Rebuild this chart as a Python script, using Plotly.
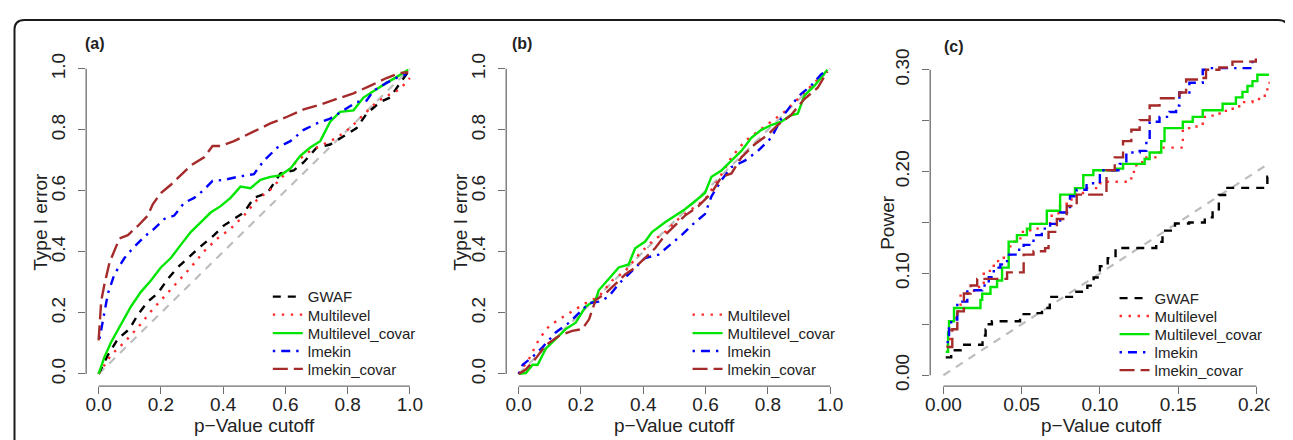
import plotly.graph_objects as go

W, H = 1293, 440
OFF = 8  # default body margin of the saved html page

# ---------------- data ----------------
# Panel (a): Type I error vs p-value cutoff
a_gwaf_x = [0, .03, .062, .099, .126, .158, .19, .222, .254, .286, .328, .371, .403, .435, .467, .499, .542, .563, .584, .627, .659, .701, .744, .787, .829, .861, .904, .936, .968, .995]
a_gwaf_y = [0, .062, .115, .147, .194, .237, .264, .311, .349, .38, .418, .455, .487, .508, .529, .577, .593, .625, .657, .667, .694, .742, .752, .779, .806, .853, .891, .906, .954, .991]
a_ml_x = [0, .04, .083, .126, .168, .211, .254, .296, .339, .382, .424, .467, .51, .552, .595, .638, .68, .723, .765, .808, .851, .893, .936, .968, 1.0]
a_ml_y = [0, .062, .104, .152, .205, .253, .301, .349, .402, .444, .476, .519, .572, .604, .651, .699, .731, .752, .774, .806, .848, .891, .917, .933, .97]
a_mlc_x = [0, .019, .04, .072, .104, .136, .168, .2, .232, .264, .296, .328, .36, .392, .424, .456, .488, .52, .552, .584, .616, .648, .68, .712, .744, .776, .819, .851, .883, .925, .957, .995]
a_mlc_y = [0, .056, .104, .163, .221, .269, .306, .349, .38, .423, .465, .497, .529, .55, .577, .614, .609, .636, .646, .651, .673, .715, .742, .763, .827, .859, .864, .906, .928, .954, .973, .997]
a_lmk_x = [.003, .014, .03, .051, .083, .11, .147, .179, .211, .243, .275, .307, .339, .366, .403, .446, .499, .531, .574, .616, .659, .701, .744, .787, .829, .861, .883, .925, .968, .989]
a_lmk_y = [.115, .179, .264, .327, .38, .412, .45, .476, .508, .519, .561, .577, .604, .633, .636, .646, .655, .699, .742, .763, .8, .821, .837, .864, .891, .896, .928, .954, .976, .981]
a_lmkc_x = [0, .0085, .019, .035, .067, .094, .126, .158, .174, .2, .232, .264, .296, .339, .366, .392, .435, .467, .499, .552, .606, .659, .712, .765, .819, .872, .925, .968, .995]
a_lmkc_y = [.11, .24, .295, .365, .444, .455, .485, .519, .556, .593, .62, .651, .683, .71, .747, .747, .763, .779, .795, .821, .843, .867, .883, .901, .92, .944, .97, .986, .989]

# Panel (b): Type I error vs p-value cutoff
b_ml_x = [0, .034, .066, .098, .13, .172, .215, .257, .3, .343, .385, .428, .47, .513, .555, .598, .64, .683, .726, .768, .811, .853, .896, .938, .991]
b_ml_y = [0, .051, .115, .157, .179, .205, .232, .253, .306, .338, .391, .434, .465, .508, .54, .572, .635, .71, .763, .795, .827, .859, .901, .944, .997]
b_mlc_x = [0, .023, .045, .061, .087, .119, .151, .183, .215, .247, .257, .289, .321, .353, .374, .406, .428, .47, .502, .534, .566, .598, .619, .651, .683, .715, .747, .779, .811, .843, .874, .896, .917, .949, .97, .991]
b_mlc_y = [0, .003, .03, .03, .083, .115, .147, .168, .221, .242, .274, .311, .349, .359, .412, .434, .465, .497, .519, .54, .566, .593, .646, .667, .699, .731, .774, .8, .816, .827, .848, .853, .912, .944, .97, .997]
b_lmk_x = [0, .013, .045, .077, .119, .162, .194, .226, .257, .289, .321, .364, .406, .449, .481, .523, .566, .598, .619, .651, .683, .726, .768, .811, .843, .874, .906, .938, .97, .991]
b_lmk_y = [0, .03, .056, .088, .136, .168, .2, .232, .237, .253, .295, .338, .38, .391, .418, .455, .497, .524, .582, .635, .678, .699, .731, .774, .837, .88, .917, .944, .981, .997]
b_lmkc_x = [0, .023, .055, .087, .13, .172, .204, .226, .247, .279, .311, .343, .374, .406, .438, .47, .502, .534, .577, .619, .651, .683, .715, .757, .8, .832, .874, .917, .96, .991]
b_lmkc_y = [0, .014, .051, .094, .125, .141, .147, .179, .242, .264, .295, .327, .349, .38, .412, .455, .487, .519, .55, .593, .646, .657, .71, .752, .784, .816, .848, .901, .938, .991]

# Panel (c): Power vs p-value cutoff (step functions)
c_gwaf_x = [0.0015, 0.005, 0.011, 0.025, 0.027, 0.029, 0.031, 0.049, 0.057, 0.063, 0.068, 0.085, 0.092, 0.096, 0.100, 0.105, 0.110, 0.136, 0.140, 0.148, 0.157, 0.167, 0.172, 0.176, 0.180, 0.207, 0.210]
c_gwaf_y = [0.0175, 0.0245, 0.030, 0.039, 0.045, 0.050, 0.053, 0.060, 0.061, 0.066, 0.077, 0.082, 0.088, 0.096, 0.107, 0.115, 0.125, 0.131, 0.142, 0.149, 0.150, 0.155, 0.163, 0.177, 0.184, 0.195, 0.195]
c_ml_x = [0.002, 0.0042, 0.0078, 0.011, 0.0195, 0.0258, 0.0322, 0.0386, 0.0428, 0.0492, 0.0555, 0.0619, 0.0682, 0.0735, 0.0788, 0.0852, 0.0915, 0.100, 0.1042, 0.1201, 0.1233, 0.1286, 0.1381, 0.153, 0.1593, 0.1657, 0.172, 0.1805, 0.189, 0.1975, 0.2038, 0.207, 0.2085]
c_ml_y = [0.029, 0.053, 0.063, 0.080, 0.0866, 0.1025, 0.1121, 0.1185, 0.1312, 0.1408, 0.144, 0.1487, 0.1567, 0.1662, 0.1726, 0.179, 0.1838, 0.1885, 0.1901, 0.1997, 0.2092, 0.214, 0.2236, 0.2427, 0.2443, 0.2538, 0.257, 0.2618, 0.2682, 0.2713, 0.2745, 0.2873, 0.2936]
c_mlc_x = [0.0015, 0.003, 0.0036, 0.0068, 0.0237, 0.0248, 0.0301, 0.0343, 0.0375, 0.0417, 0.047, 0.0534, 0.0555, 0.0661, 0.0746, 0.0841, 0.0894, 0.0958, 0.1106, 0.1148, 0.1286, 0.1318, 0.1392, 0.1413, 0.153, 0.1593, 0.1657, 0.1784, 0.1869, 0.1911, 0.1943, 0.1975, 0.2006, 0.208]
c_mlc_y = [0.023, 0.042, 0.053, 0.066, 0.074, 0.080, 0.0866, 0.093, 0.1057, 0.1312, 0.1376, 0.144, 0.1487, 0.1615, 0.1774, 0.1838, 0.1965, 0.2013, 0.2029, 0.2076, 0.2124, 0.2188, 0.2299, 0.2427, 0.249, 0.2538, 0.2602, 0.2666, 0.2729, 0.2783, 0.2841, 0.2889, 0.2952, 0.2952]
c_lmk_x = [0.002, 0.0036, 0.005, 0.0089, 0.0153, 0.0248, 0.029, 0.0322, 0.0364, 0.0407, 0.047, 0.0513, 0.0576, 0.0629, 0.0682, 0.0746, 0.0809, 0.0852, 0.0915, 0.100, 0.1127, 0.1169, 0.1254, 0.1297, 0.1318, 0.1381, 0.1445, 0.1487, 0.1508, 0.1572, 0.1657, 0.1678, 0.1975, 0.1996]
c_lmk_y = [0.0325, 0.0484, 0.0548, 0.0723, 0.0834, 0.0882, 0.0962, 0.1057, 0.1089, 0.1185, 0.1232, 0.128, 0.1376, 0.144, 0.1487, 0.1599, 0.1758, 0.1822, 0.1885, 0.2013, 0.2076, 0.2188, 0.2204, 0.2331, 0.249, 0.2538, 0.2586, 0.265, 0.2777, 0.2873, 0.300, 0.3016, 0.3096, 0.3102]
c_lmkc_x = [0.002, 0.0057, 0.0089, 0.0131, 0.0174, 0.0216, 0.0407, 0.0513, 0.0576, 0.065, 0.0672, 0.0725, 0.0788, 0.0852, 0.1042, 0.1095, 0.1148, 0.1201, 0.1254, 0.1318, 0.1381, 0.1508, 0.1551, 0.1636, 0.1678, 0.1763, 0.1847, 0.1996]
c_lmkc_y = [0.0277, 0.0452, 0.0627, 0.0803, 0.0882, 0.0946, 0.101, 0.1185, 0.1217, 0.1248, 0.1408, 0.1535, 0.1662, 0.1774, 0.2013, 0.214, 0.2299, 0.2411, 0.2506, 0.265, 0.272, 0.2777, 0.2904, 0.292, 0.300, 0.3022, 0.308, 0.3111]

diag_ab = [0, 1]
diag_c = [0, 0.207]

ab_ticks = [0, 0.2, 0.4, 0.6, 0.8, 1.0]
ab_ticktext = ["0.0", "0.2", "0.4", "0.6", "0.8", "1.0"]
c_xticks = [0, 0.05, 0.10, 0.15, 0.20]
c_xticktext = ["0.00", "0.05", "0.10", "0.15", "0.20"]
c_yticks = [0, 0.05, 0.10, 0.15, 0.20, 0.25, 0.30]
c_yticktext = ["0.00", "", "0.10", "", "0.20", "", "0.30"]

# ---------------- layout helpers ----------------
FONT = "Liberation Sans, Arial, Helvetica, sans-serif"
TXT = "#222222"
AXC = "#6e6e6e"

def px_x(p):
    return (p - OFF) / W

def px_y(p):
    return 1 - (p - OFF) / H

# plot regions in page pixels: left, right, top, bottom; and axis ranges
panels = {
    "a": dict(box=(81.5, 419.2, 49.8, 388.5), xr=[-0.04, 1.04], yr=[-0.04, 1.04]),
    "b": dict(box=(503.5, 841.5, 49.8, 388.5), xr=[-0.04, 1.04], yr=[-0.04, 1.04]),
    "c": dict(box=(929.5, 1274.5, 49.8, 388.5), xr=[-0.0084, 0.211], yr=[-0.0107, 0.3129]),
}

styles = {
    "GWAF": dict(color="#000000", dash="8px,7px"),
    "Multilevel": dict(color="#ff2a2a", dash="2.4px,6.6px"),
    "Multilevel_covar": dict(color="#00e600", dash="solid"),
    "lmekin": dict(color="#0000ff", dash="2.4px,6px,9px,6px"),
    "lmekin_covar": dict(color="#a52a2a", dash="15px,6px"),
}
LW = 2.4

fig = go.Figure()

series = {
    "a": [("GWAF", a_gwaf_x, a_gwaf_y), ("Multilevel", a_ml_x, a_ml_y),
          ("Multilevel_covar", a_mlc_x, a_mlc_y), ("lmekin", a_lmk_x, a_lmk_y),
          ("lmekin_covar", a_lmkc_x, a_lmkc_y)],
    "b": [("Multilevel", b_ml_x, b_ml_y), ("Multilevel_covar", b_mlc_x, b_mlc_y),
          ("lmekin", b_lmk_x, b_lmk_y), ("lmekin_covar", b_lmkc_x, b_lmkc_y)],
    "c": [("GWAF", c_gwaf_x, c_gwaf_y), ("Multilevel", c_ml_x, c_ml_y),
          ("Multilevel_covar", c_mlc_x, c_mlc_y), ("lmekin", c_lmk_x, c_lmk_y),
          ("lmekin_covar", c_lmkc_x, c_lmkc_y)],
}
legend_rows = {
    "a": (306, [296.7, 315.3, 334.3, 352.7, 371.0]),
    "b": (727.7, [315.3, 334.3, 352.7, 371.0]),
    "c": (1156.7, [298.3, 316.7, 335.3, 354.0, 372.3]),
}
axis_ids = {"a": ("x", "y", ""), "b": ("x2", "y2", "2"), "c": ("x3", "y3", "3")}

layout_extra = {}
legend_counter = 0
for key in ["a", "b", "c"]:
    xa, ya, suf = axis_ids[key]
    diag = diag_c if key == "c" else diag_ab
    fig.add_trace(go.Scatter(x=diag, y=diag, mode="lines", xaxis=xa, yaxis=ya,
                             line=dict(color="#bdbdbd", width=2.2, dash="8px,7px"),
                             showlegend=False, hoverinfo="skip"))
    text_x, rows = legend_rows[key]
    for (name, xs, ys), row_y in zip(series[key], rows):
        legend_counter += 1
        lname = "legend" if legend_counter == 1 else f"legend{legend_counter}"
        st = styles[name]
        fig.add_trace(go.Scatter(
            x=xs, y=ys, mode="lines", name=name, xaxis=xa, yaxis=ya,
            line=dict(color=st["color"], width=LW, dash=st["dash"],
                      shape="hv" if key == "c" else "linear"),
            legend=lname, showlegend=True))
        layout_extra[lname] = dict(
            x=px_x(text_x - 42), y=px_y(row_y), xanchor="left", yanchor="middle",
            bgcolor="rgba(0,0,0,0)", borderwidth=0,
            font=dict(family=FONT, size=15, color=TXT), itemclick=False,
        )

shapes = []
annotations = []

def to_paper(key, xv, yv):
    l, r, t, b = panels[key]["box"]
    x0, x1 = panels[key]["xr"]
    y0, y1 = panels[key]["yr"]
    px = l + (xv - x0) / (x1 - x0) * (r - l)
    py = b - (yv - y0) / (y1 - y0) * (b - t)
    return px_x(px), px_y(py)

axis_spec = {
    "a": dict(xt=ab_ticks, xtt=ab_ticktext, yt=ab_ticks, ytt=ab_ticktext, ytitle="Type I error",
              ytitle_x=36, label="(a)", label_x=78, label_y=36),
    "b": dict(xt=ab_ticks, xtt=ab_ticktext, yt=ab_ticks, ytt=ab_ticktext, ytitle="Type I error",
              ytitle_x=458, label="(b)", label_x=507.7, label_y=36),
    "c": dict(xt=c_xticks, xtt=c_xticktext, yt=c_yticks, ytt=c_yticktext, ytitle="Power",
              ytitle_x=887, label="(c)", label_x=941.7, label_y=39),
}

for key in ["a", "b", "c"]:
    xa, ya, suf = axis_ids[key]
    l, r, t, b = panels[key]["box"]
    sp = axis_spec[key]
    common = dict(showgrid=False, zeroline=False, showline=False, ticks="outside",
                  ticklen=7, tickwidth=1.3, tickcolor=AXC,
                  tickfont=dict(family=FONT, size=19, color=TXT), fixedrange=True)
    layout_extra["xaxis" + suf] = dict(domain=[px_x(l), px_x(r)], range=panels[key]["xr"],
                                       anchor=ya, tickvals=sp["xt"], ticktext=sp["xtt"],
                                       ticklabelstandoff=-6, **common)
    layout_extra["yaxis" + suf] = dict(domain=[px_y(b), px_y(t)], range=panels[key]["yr"],
                                       anchor=xa, tickvals=sp["yt"], ticktext=sp["ytt"],
                                       tickangle=-90, ticklabelstandoff=6, **common)
    # R-style axis lines spanning first to last tick
    xs0, _ = to_paper(key, sp["xt"][0], 0)
    xs1, _ = to_paper(key, sp["xt"][-1], 0)
    _, ys0 = to_paper(key, 0, sp["yt"][0])
    _, ys1 = to_paper(key, 0, sp["yt"][-1])
    shapes.append(dict(type="line", xref="paper", yref="paper", x0=xs0, x1=xs1,
                       y0=px_y(b), y1=px_y(b), line=dict(color=AXC, width=1.3)))
    shapes.append(dict(type="line", xref="paper", yref="paper", x0=px_x(l), x1=px_x(l),
                       y0=ys0, y1=ys1, line=dict(color=AXC, width=1.3)))
    # axis titles
    annotations.append(dict(text="p\u2212Value cutoff", xref="paper", yref="paper",
                            x=px_x((l + r) / 2), y=px_y(429), xanchor="center", yanchor="middle",
                            showarrow=False, font=dict(family=FONT, size=19, color=TXT)))
    annotations.append(dict(text=sp["ytitle"], xref="paper", yref="paper", textangle=-90,
                            x=px_x(sp["ytitle_x"]), y=px_y((t + b) / 2 + 0.5), xanchor="center",
                            yanchor="middle", showarrow=False,
                            font=dict(family=FONT, size=19, color=TXT)))
    annotations.append(dict(text="<b>" + sp["label"] + "</b>", xref="paper", yref="paper",
                            x=px_x(sp["label_x"]), y=px_y(sp["label_y"]), xanchor="left",
                            yanchor="middle", showarrow=False,
                            font=dict(family=FONT, size=16, color=TXT)))

# cropped edge of panel (c)
shapes.append(dict(type="rect", xref="paper", yref="paper", layer="above",
                   x0=px_x(1270.5), x1=px_x(1285), y0=px_y(448), y1=px_y(45),
                   fillcolor="white", line=dict(width=0)))

# rounded outer frame
fx0, fx1, fy0, rad = 9.5, 1289, 12, 10
frame = (f"M {px_x(fx0)},{px_y(470)} L {px_x(fx0)},{px_y(fy0 + rad)} "
         f"Q {px_x(fx0)},{px_y(fy0)} {px_x(fx0 + rad)},{px_y(fy0)} "
         f"L {px_x(fx1 - rad)},{px_y(fy0)} Q {px_x(fx1)},{px_y(fy0)} {px_x(fx1)},{px_y(fy0 + rad)} "
         f"L {px_x(fx1)},{px_y(470)}")
shapes.append(dict(type="path", xref="paper", yref="paper", path=frame, layer="above",
                   line=dict(color="#1a1a1a", width=2)))

fig.update_layout(
    width=W, height=H, margin=dict(l=0, r=0, t=0, b=0, pad=0),
    paper_bgcolor="white", plot_bgcolor="white",
    font=dict(family=FONT, color=TXT),
    shapes=shapes, annotations=annotations, hovermode=False,
    **layout_extra,
)

fig.write_html("out.html")
